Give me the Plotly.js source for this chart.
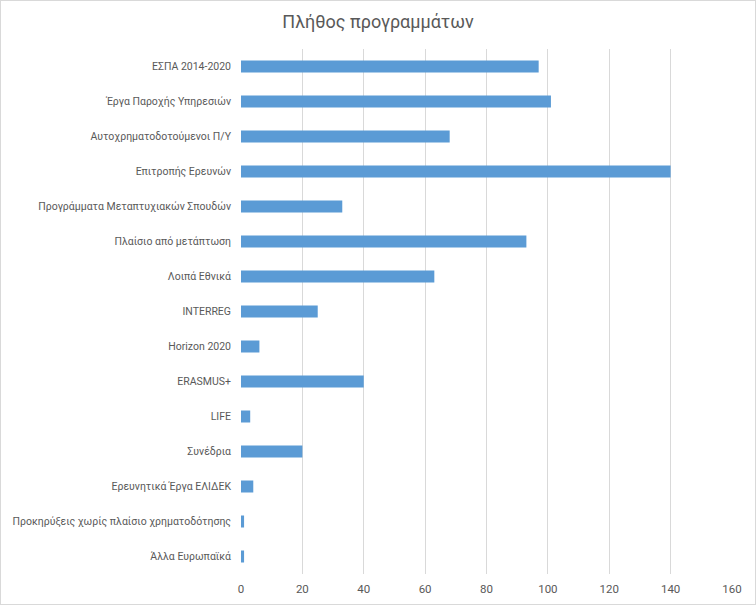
<!DOCTYPE html>
<html>
<head>
<meta charset="utf-8">
<script src="https://cdn.plot.ly/plotly-3.0.1.min.js"></script>
<style>
html,body{margin:0;padding:0;background:#fff;}
#chart{width:754px;height:603px;border:1px solid #d9d9d9;}
</style>
</head>
<body>
<div id="chart"></div>
<script>
const categories = [
  "ΕΣΠΑ 2014-2020",
  "Έργα Παροχής Υπηρεσιών",
  "Αυτοχρηματοδοτούμενοι Π/Υ",
  "Επιτροπής Ερευνών",
  "Προγράμματα Μεταπτυχιακών Σπουδών",
  "Πλαίσιο από μετάπτωση",
  "Λοιπά Εθνικά",
  "INTERREG",
  "Horizon 2020",
  "ERASMUS+",
  "LIFE",
  "Συνέδρια",
  "Ερευνητικά Έργα ΕΛΙΔΕΚ",
  "Προκηρύξεις χωρίς πλαίσιο χρηματοδότησης",
  "Άλλα Ευρωπαϊκά"
];
const counts = [97, 101, 68, 140, 33, 93, 63, 25, 6, 40, 3, 20, 4, 1, 1];
const xTicks = [0, 20, 40, 60, 80, 100, 120, 140, 160];
const chartTitle = "Πλήθος προγραμμάτων";

const trace = {
  type: "bar",
  orientation: "h",
  x: counts,
  y: categories,
  marker: {color: "#5b9bd5"},
  hoverinfo: "x+y"
};

const layout = {
  width: 754,
  height: 603,
  margin: {l: 239.5, r: 23, t: 48, b: 30, pad: 0},
  paper_bgcolor: "#fff",
  plot_bgcolor: "#fff",
  font: {family: "Roboto, sans-serif", color: "#595959", size: 11},
  title: {
    text: chartTitle,
    x: 0.5,
    xanchor: "center",
    y: 0.966,
    yanchor: "middle",
    font: {size: 18, color: "#595959", family: "Roboto, sans-serif"}
  },
  bargap: 0.657,
  showlegend: false,
  xaxis: {
    range: [0, 160],
    tickvals: xTicks,
    ticktext: xTicks.map(String),
    showgrid: true,
    gridcolor: "#d9d9d9",
    gridwidth: 1,
    zeroline: false,
    showline: false,
    ticks: "",
    ticklen: 0,
    ticklabelstandoff: 6,
    tickfont: {size: 11.5, color: "#595959"},
    fixedrange: true
  },
  yaxis: {
    type: "category",
    autorange: "reversed",
    showgrid: false,
    zeroline: false,
    showline: false,
    ticks: "",
    ticklabelstandoff: 9,
    tickfont: {size: 10.5, color: "#595959"},
    fixedrange: true
  }
};

Plotly.newPlot("chart", [trace], layout, {displayModeBar: false, staticPlot: true});
</script>
</body>
</html>
